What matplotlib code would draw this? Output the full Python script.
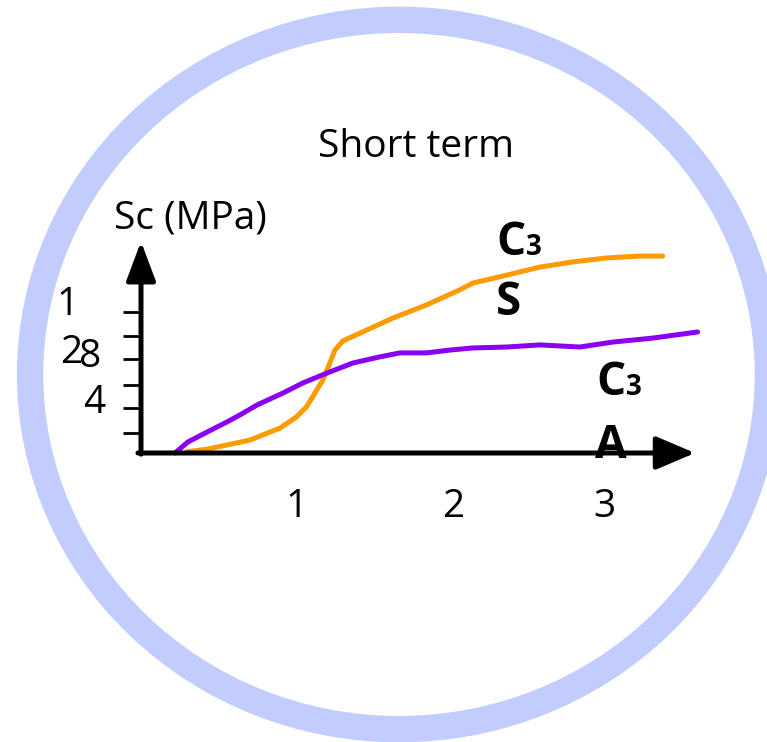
import numpy as np
import matplotlib
matplotlib.use("Agg")
import matplotlib.pyplot as plt
from matplotlib.patches import Ellipse

plt.rcParams['font.family'] = ['Open Sans', 'DejaVu Sans']

# strength development, short term (age in days on x)
c3s_x = [0.297, 0.427, 0.557, 0.708, 0.792, 0.903, 1.011, 1.076, 1.130, 1.182,
         1.227, 1.260, 1.312, 1.466, 1.636, 1.855, 2.071, 2.156, 2.377, 2.591,
         2.805, 3.026, 3.240, 3.390]
c3s_y = [0.05, 0.16, 0.34, 0.55, 0.77, 1.06, 1.54, 1.97, 2.55, 3.11,
         3.83, 4.38, 4.77, 5.23, 5.74, 6.30, 6.94, 7.23, 7.57, 7.91,
         8.13, 8.30, 8.38, 8.38]

c3a_x = [0.221, 0.305, 0.429, 0.558, 0.643, 0.753, 0.922, 1.052, 1.208, 1.377,
         1.552, 1.682, 1.857, 2.006, 2.156, 2.377, 2.591, 2.851, 3.065, 3.325,
         3.617]
c3a_y = [0.0, 0.47, 0.89, 1.32, 1.62, 2.04, 2.55, 2.98, 3.40, 3.83,
         4.09, 4.26, 4.26, 4.38, 4.47, 4.51, 4.60, 4.51, 4.72, 4.89,
         5.15]

ytick_pos = [0.85, 1.9, 2.9, 4.0, 5.0, 6.0]
xtick_pos = [1.01, 2.03, 3.01]
xtick_lab = ['1', '2', '3']

fig = plt.figure(figsize=(7.67, 7.42), dpi=100)

# blue ring around everything
ring = Ellipse((0.5202, 0.4953), 0.962, 0.956, transform=fig.transFigure,
               fill=False, edgecolor='#c2cdfd', linewidth=19)
fig.patches.append(ring)

ax = fig.add_axes([141 / 767, 1 - 453 / 742, 554 / 767, 211.5 / 742])
ax.set_xlim(0, 3.6)
ax.set_ylim(0, 9)
ax.patch.set_alpha(0)
for s in ax.spines.values():
    s.set_visible(False)

# axes drawn as arrows
ax.annotate('', xy=(3.6, 0), xytext=(-0.02, 0),
            arrowprops=dict(arrowstyle='-|>,head_length=0.8,head_width=0.34',
                            lw=3.6, color='black', shrinkA=0, shrinkB=0,
                            mutation_scale=30), annotation_clip=False)
ax.annotate('', xy=(0, 9.0), xytext=(0, -0.05),
            arrowprops=dict(arrowstyle='-|>,head_length=0.8,head_width=0.3',
                            lw=3.6, color='black', shrinkA=0, shrinkB=0,
                            mutation_scale=30), annotation_clip=False)

ax.plot(c3s_x, c3s_y, color='#ff9a00', lw=3.6, solid_capstyle='round', clip_on=False)
ax.plot(c3a_x, c3a_y, color='#8b00f0', lw=3.6, solid_capstyle='round', clip_on=False)

ax.set_yticks(ytick_pos)
ax.set_yticklabels([])
ax.tick_params(axis='y', direction='out', length=13, width=2, color='black', left=True)
ax.set_xticks([])

for xv, lab in zip(xtick_pos, xtick_lab):
    ax.text(xv, -2.72, lab, ha='center', va='baseline', fontsize=28, clip_on=False)

# y labels as they sit on the sketch
ax.text(-0.474, 5.87, '1', ha='center', va='baseline', fontsize=28)
ax.text(-0.455, 3.83, '2', ha='center', va='baseline', fontsize=28)
ax.text(-0.331, 3.66, '8', ha='center', va='baseline', fontsize=28)
ax.text(-0.305, 1.70, '4', ha='center', va='baseline', fontsize=28)

fig.text(416 / 767, 1 - 157 / 742, 'Short term', ha='center', va='baseline', fontsize=28)
fig.text(190 / 767, 1 - 228 / 742, 'Sc (MPa)', ha='center', va='baseline', fontsize=28)


def cement_label(xp, yp, main, sub):
    # bold letter with small index, positioned by baseline in pixels
    fig.text(xp / 767, 1 - yp / 742, main, ha='left', va='baseline',
             fontsize=33, fontweight='bold')
    if sub:
        fig.text((xp + 30) / 767, 1 - yp / 742, sub, ha='left', va='baseline',
                 fontsize=20, fontweight='bold')


cement_label(496, 255, 'C', '3')
cement_label(496, 315, 'S', '')
cement_label(596, 395, 'C', '3')
cement_label(595, 458, 'A', '')

fig.savefig('out.png', dpi=100)
